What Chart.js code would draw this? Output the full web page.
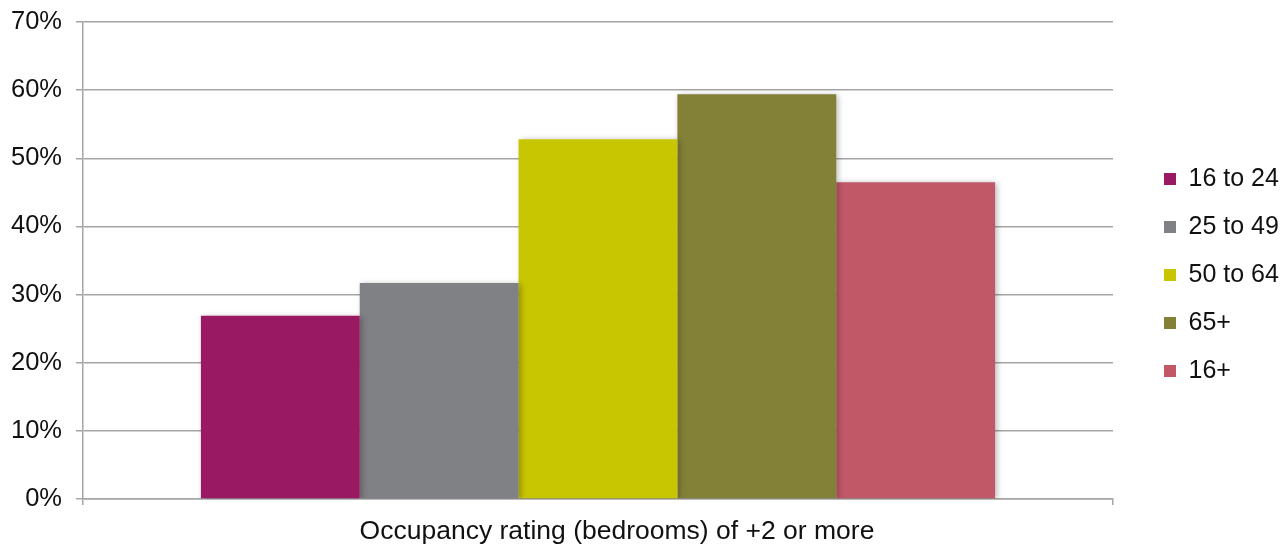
<!DOCTYPE html>
<html>
<head>
<meta charset="utf-8">
<script src="https://cdn.jsdelivr.net/npm/chart.js@4/dist/chart.umd.min.js"></script>
<style>
  html, body { margin: 0; padding: 0; background: #fff; }
  #wrap { width: 1284px; height: 544px; position: relative; }
</style>
</head>
<body>
<div id="wrap"><canvas id="chart"></canvas></div>
<script>
// Share of people by age group with an occupancy rating of +2 or more
const categories = ['Occupancy rating (bedrooms) of +2 or more'];
const seriesNames = ['16 to 24', '25 to 49', '50 to 64', '65+', '16+'];
const seriesValues = [[26.9], [31.7], [52.8], [59.4], [46.5]];
const seriesColors = ['#991a62', '#808185', '#c8c600', '#828137', '#c05868'];
const yTicks = [0, 10, 20, 30, 40, 50, 60, 70];

const gridColor = '#a5a5a5';
const fontFamily = '"Liberation Sans", Arial, Helvetica, sans-serif';

// soft drop shadow behind the bars
const barShadow = {
  id: 'barShadow',
  beforeDatasetsDraw(chart) {
    const ctx = chart.ctx;
    ctx.save();
    ctx.shadowColor = 'rgba(0,0,0,0.28)';
    ctx.shadowBlur = 6;
    ctx.shadowOffsetX = 2;
    ctx.shadowOffsetY = 1;
  },
  afterDatasetsDraw(chart) {
    chart.ctx.restore();
  }
};

// nudge the legend column down a little
const legendNudge = {
  id: 'legendNudge',
  afterLayout(chart) {
    const lg = chart.legend;
    if (lg) { lg.top += 3; lg.bottom += 3; }
  }
};

new Chart(document.getElementById('chart'), {
  type: 'bar',
  data: {
    labels: categories,
    datasets: seriesNames.map((name, i) => ({
      label: name,
      data: seriesValues[i],
      backgroundColor: seriesColors[i],
      borderWidth: 0,
      barPercentage: 1,
      categoryPercentage: 0.771
    }))
  },
  options: {
    responsive: true,
    maintainAspectRatio: false,
    animation: false,
    layout: { padding: 0 },
    plugins: {
      legend: {
        position: 'right',
        maxWidth: 143,
        labels: {
          boxWidth: 12,
          boxHeight: 12,
          padding: 23,
          color: '#111',
          font: { family: fontFamily, size: 25 }
        }
      },
      tooltip: { enabled: false }
    },
    scales: {
      x: {
        grid: {
          display: true,
          drawOnChartArea: false,
          drawTicks: true,
          tickLength: 6,
          color: gridColor,
          lineWidth: 1.5
        },
        border: { display: true, color: gridColor, width: 1.5 },
        ticks: {
          color: '#111',
          padding: 11,
          labelOffset: 19,
          font: { family: fontFamily, size: 26.5 }
        },
        afterFit(scale) { scale.height = 45; }
      },
      y: {
        min: 0,
        max: 70,
        afterBuildTicks(scale) {
          scale.ticks = yTicks.map(v => ({ value: v }));
        },
        grid: {
          color: gridColor,
          lineWidth: 1.5,
          tickLength: 7
        },
        border: { display: true, color: gridColor, width: 1.5 },
        ticks: {
          color: '#111',
          padding: 14,
          font: { family: fontFamily, size: 25.5 },
          callback: v => v + '%'
        },
        afterFit(scale) {
          scale.width = 83;
          scale.paddingTop = 22;
          scale.paddingBottom = 0;
        }
      },
      gap: {
        type: 'linear',
        position: 'right',
        display: true,
        grid: { display: false, drawTicks: false },
        border: { display: false },
        ticks: { display: false },
        afterFit(scale) {
          scale.width = 28;
          scale.paddingTop = 0;
          scale.paddingBottom = 0;
        }
      }
    }
  },
  plugins: [barShadow, legendNudge]
});
</script>
</body>
</html>
